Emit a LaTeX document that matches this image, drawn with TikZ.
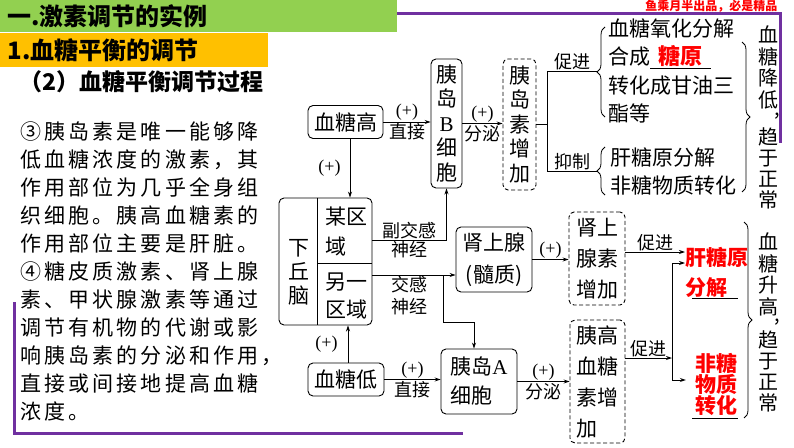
\documentclass[tikz,border=0pt]{standalone}
\usepackage{fontspec}
\setmainfont{Noto Sans CJK SC}
\newfontfamily\lat{Liberation Serif}
\newfontfamily\para[LetterSpace=15]{Noto Sans CJK SC}
\usetikzlibrary{positioning,arrows.meta,decorations.pathreplacing}
\definecolor{barGreen}{RGB}{146,208,80}
\definecolor{barOrange}{RGB}{255,192,0}
\definecolor{framePurple}{RGB}{112,48,160}
\definecolor{keyRed}{RGB}{255,0,0}
\newcommand\fsz[2]{\fontsize{#1}{#2}\selectfont}
\tikzset{
  >={Stealth[length=6pt,width=4pt]},
  box/.style={draw, rounded corners=5pt, line width=0.9pt, align=center, inner sep=0pt, font=\fsz{21}{24}},
  dbox/.style={box, dashed, dash pattern=on 4pt off 2.5pt},
  lbl/.style={font=\fsz{18}{22}, inner sep=1pt},
  txt/.style={anchor=north west, align=left, inner sep=0pt, font=\fsz{21}{28.5}},
  vt/.style={anchor=north, align=center, inner sep=0pt, font=\fsz{20}{21.5}},
  key/.style={text=keyRed, font=\fsz{21}{30}\bfseries, inner sep=0pt},
  brc/.style={decorate, decoration={brace, amplitude=8pt}, line width=0.8pt},
  link/.style={line width=0.9pt}
}

\begin{document}
\begin{tikzpicture}[x=1pt,y=-1pt]
\useasboundingbox (0,0) rectangle (794,447);

\fill[barGreen] (0,0) rectangle (397,32);
\fill[barOrange] (0,33) rectangle (268,67);
\draw[framePurple, line width=3pt] (397,13) -- (780,13) -- (780,143);
\draw[framePurple, line width=3pt] (14,302) -- (14,433) -- (463,433);

\node[anchor=west, font=\fsz{24}{28}\bfseries] (h1) at (4,16) {一.激素调节的实例};
\node[anchor=west, font=\fsz{24}{28}\bfseries] (h2) at (4,50) {1.血糖平衡的调节};
\node[anchor=west, font=\fsz{23}{28}\bfseries] (h3) at (16,82) {（2）血糖平衡调节过程};
\node[anchor=east, text=keyRed, font=\fsz{12}{14}\bfseries] (mark) at (781,6) {鱼乘月半出品，必是精品};

\node[anchor=north west, align=left, inner sep=0pt, font=\para\fsz{21}{28}] (note) at (20,122)
  {③胰岛素是唯一能够降\\低血糖浓度的激素，其\\作用部位为几乎全身组\\织细胞。胰高血糖素的\\作用部位主要是肝脏。\\
   ④糖皮质激素、肾上腺\\素、甲状腺激素等通过\\调节有机物的代谢或影\\响胰岛素的分泌和作用，\\直接或间接地提高血糖\\浓度。};

% upper path
\node[box, minimum width=75, minimum height=33] (gao) at (345.5,122) {血糖高};
\node[box, minimum width=31, minimum height=129, font=\fsz{21}{24.5}] (bcell) at (446.5,123.5) {胰\\岛\\{\lat B}\\细\\胞};
\node[dbox, minimum width=33, minimum height=131, font=\fsz{21}{24.5}] (ins) at (519.5,124.5) {胰\\岛\\素\\增\\加};
\coordinate (split) at (547,124);

\draw[->, link] (gao.east) -- (gao.east -| bcell.west) node[lbl, midway, above] {\lat(+)} node[lbl, midway, below] {直接};
\draw[->, link] (bcell.east) -- (bcell.east -| ins.west) node[lbl, midway, above] {\lat(+)} node[lbl, midway, below] {分泌};
\draw[link] (ins.east) -- (ins.east -| split);
\draw[link] (547,71) -- (547,171);
\draw[link] (547,71) -- (597,71) node[lbl, midway, above] {促进};
\draw[link] (547,171) -- (597,171) node[lbl, midway, above] {抑制};

\draw[brc] (605,117) -- (605,27);
\draw[brc] (605,195) -- (605,147);
\node[txt] (up) at (608,18.5) {血糖氧化分解\\合成\underline{\makebox[61pt]{\color{keyRed}\fsz{22}{28.5}\bfseries 糖原}}\\转化成甘油三\\酯等};
\node[txt, font=\fsz{21}{28}] (dn) at (610,147.5) {肝糖原分解\\非糖物质转化};

\draw[brc] (742,42) -- (742,192);
\node[vt] (r1) at (768,25.5) {血\\糖\\降\\低};
\node[font=\fsz{20}{22}, inner sep=0pt] (r1c) at (777,116) {,};
\node[vt, font=\fsz{20}{21}] (r2) at (768,127.5) {趋\\于\\正\\常};

% hypothalamus
\node[box, minimum width=93, minimum height=127] (xqn) at (325.5,261.5) {};
\draw[link] ([xshift=39pt]xqn.north west) -- ([xshift=39pt]xqn.south west);
\draw[link] (318,263) -- (xqn.east |- 318,263);
\node[align=center, inner sep=0pt, font=\fsz{21}{24}] (xq) at (298.5,272) {下\\丘\\脑};
\node[anchor=west, align=left, inner sep=0pt, font=\fsz{21}{30}] (mq) at (325,232) {某区\\域};
\node[anchor=west, align=left, inner sep=0pt, font=\fsz{21}{28}] (lq) at (325,296) {另一\\区域};

\node[box, minimum width=76, minimum height=33] (di) at (346,379.5) {血糖低};
\node[box, minimum width=76, minimum height=65, align=left, font=\fsz{21}{29}] (acell) at (479,381.5) {胰岛{\lat A}\\细胞};
\node[box, minimum width=76, minimum height=65, font=\fsz{21}{32}] (sss) at (494,259.5) {肾上腺\\(髓质)};
\node[dbox, minimum width=56, minimum height=93, font=\fsz{21}{31}] (sssz) at (597,258.5) {肾上\\腺素\\增加};
\node[dbox, minimum width=55, minimum height=123, align=left, font=\fsz{21}{31}] (gxt) at (597.5,381.5) {胰高\\血糖\\素增\\加};

\draw[->, link] ([xshift=4.5pt]gao.south) -- ([xshift=4.5pt]gao.south |- xqn.north) node[lbl, midway, left=8pt] {\lat(+)};
\draw[->, link] ([xshift=2pt]di.north) -- ([xshift=2pt]di.north |- xqn.south) node[lbl, midway, left=9pt] {\lat(+)};
\draw[->, link] (xqn.east |- 0,240) -| (bcell.south) node[lbl, pos=0.25, above] {副交感} node[lbl, pos=0.25, below] {神经};
\coordinate (fork) at (443,275);
\draw[->, link] (xqn.east |- 0,275) -- (sss.west |- 0,275) node[lbl, pos=0.45, below, align=center] {交感\\神经};
\draw[->, link] (fork) |- ([xshift=-5pt]acell.north |- 0,322) -- ([xshift=-5pt]acell.north);

\draw[->, link] (di.east) -- (di.east -| acell.west) node[lbl, midway, above] {\lat(+)} node[lbl, midway, below] {直接};
\draw[->, link] (acell.east) -- (acell.east -| gxt.west) node[lbl, midway, above] {\lat(+)} node[lbl, midway, below] {分泌};
\draw[->, link] (sss.east) -- (sss.east -| sssz.west) node[lbl, midway, above] {\lat(+)};

% effects of glucagon and adrenaline
\node[key, anchor=north west, align=left] (gty) at (685,247) {肝糖原\\分解};
\node[key, anchor=north, align=center, font=\fsz{21}{21}\bfseries] (ftz) at (716,353.5) {非糖\\物质\\转化};
\draw[line width=1pt] (692,298) -- (738,298);
\draw[line width=1pt] (692,418) -- (738,418);

\coordinate (jn) at (672,358);
\draw[->, link] (sssz.east |- 0,252) -- (gty.west |- 0,252) node[lbl, midway, above] {促进};
\draw[->, link] (gxt.east |- jn) -- (jn) node[lbl, midway, above] {促进};
\draw[link] (672,263) -- (672,380);
\draw[->, link] (672,263) -- (gty.west |- 0,263);
\draw[->, link] (672,380) -- ([xshift=-9pt]ftz.west |- 0,380);

\draw[brc] (744,222) -- (744,418);
\node[vt] (r3) at (768,232.5) {血\\糖\\升\\高};
\node[font=\fsz{20}{22}, inner sep=0pt] (r3c) at (777,322) {,};
\node[vt, font=\fsz{20}{21}] (r4) at (768,330.5) {趋\\于\\正\\常};
\end{tikzpicture}
\end{document}
